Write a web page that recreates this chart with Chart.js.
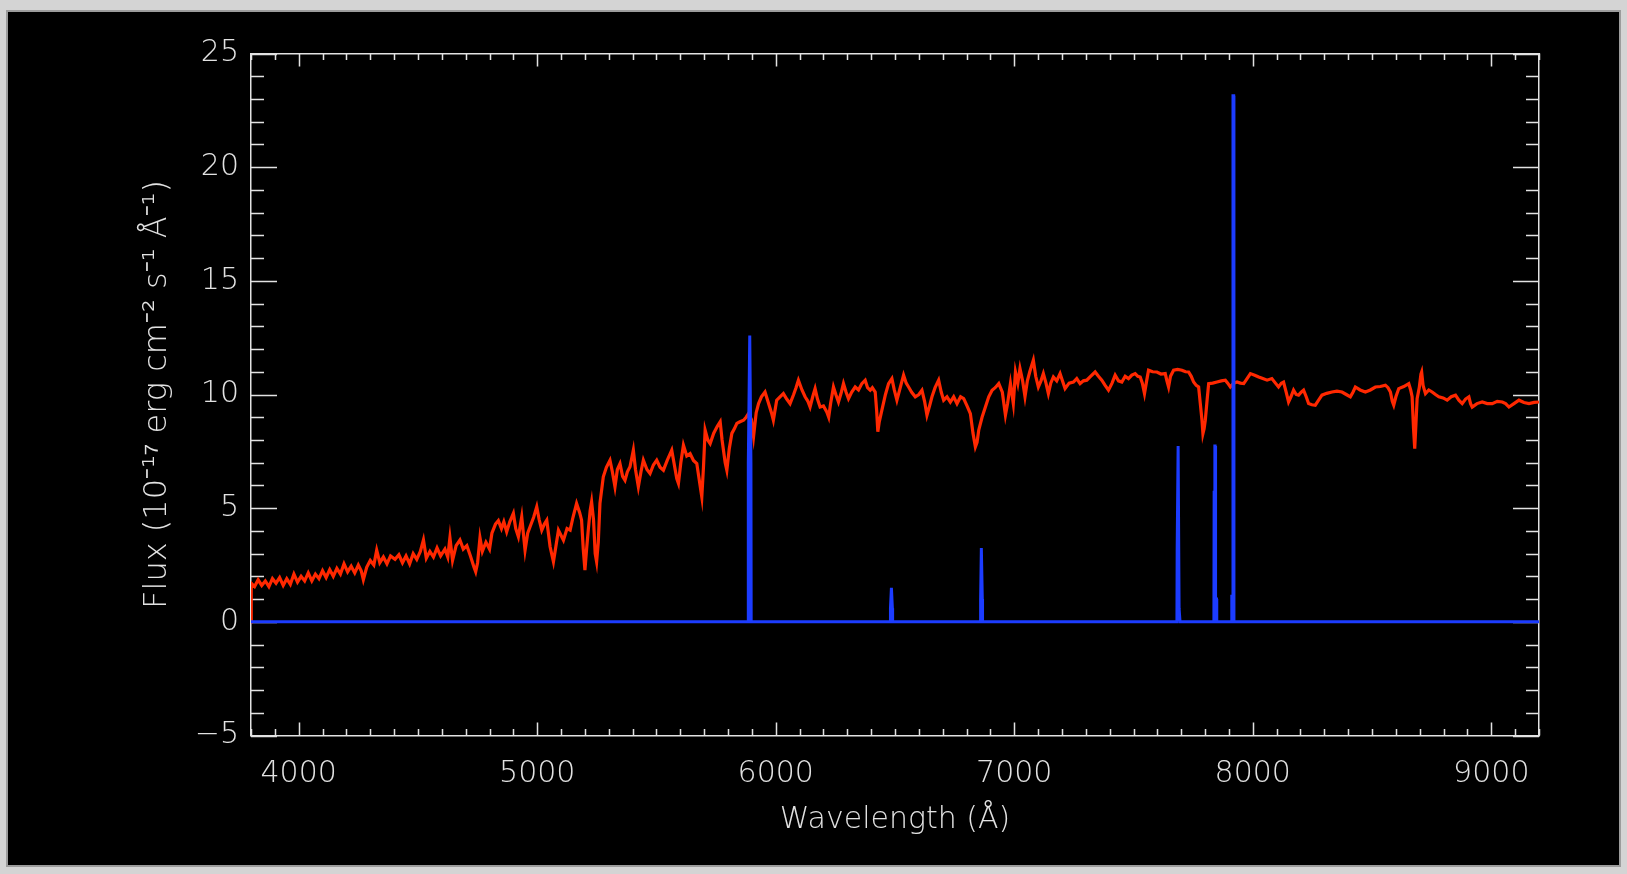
<!DOCTYPE html>
<html lang="en">
  <head>
    <meta charset="UTF-8" />
    <title>Spectrum</title>
    <script src="https://cdn.jsdelivr.net/npm/chart.js"></script>
    <style>
      html, body {
        margin: 0;
        padding: 0;
        width: 1627px;
        height: 874px;
        overflow: hidden;
        background: #d4d4d4;
      }
      .panel {
        position: absolute;
        left: 8px;
        top: 12px;
        width: 1611px;
        height: 853px;
        background: #000;
        box-shadow: 0 0 0 2px #9c9c9c;
      }
    </style>
  </head>
  <body>
    <div class="panel">
      <canvas id="spec" width="1611" height="853"></canvas>
    </div>

    <script>
      // observed spectrum (red)
      const wavelength = [
        3800, 3801, 3815, 3830, 3845, 3860, 3875, 3890, 3905, 3920, 3935, 3950, 3965, 3980, 3995,
        4010, 4025, 4040, 4055, 4070, 4085, 4100, 4115, 4130, 4145, 4160, 4175, 4190, 4205, 4220,
        4235, 4250, 4262, 4271, 4285, 4300, 4315, 4327, 4340, 4355, 4370, 4385, 4404, 4420, 4435,
        4450, 4465, 4480, 4495, 4510, 4523, 4535, 4550, 4565, 4580, 4595, 4613, 4625, 4634, 4645,
        4660, 4676, 4690, 4705, 4720, 4735, 4742, 4750, 4760, 4770, 4785, 4800, 4810, 4825, 4837,
        4850, 4860, 4872, 4885, 4900, 4910, 4921, 4935, 4949, 4960, 4970, 4985, 4998, 5008, 5019,
        5030, 5040, 5054, 5068, 5078, 5089, 5100, 5110, 5125, 5138, 5150, 5165, 5178, 5186, 5193,
        5200, 5207, 5214, 5222, 5228, 5236, 5243, 5249, 5256, 5263, 5277, 5290, 5305, 5315, 5326,
        5336, 5347, 5358, 5368, 5378, 5389, 5403, 5412, 5424, 5435, 5445, 5460, 5473, 5487, 5501,
        5515, 5529, 5545, 5564, 5575, 5585, 5592, 5602, 5613, 5627, 5641, 5655, 5669, 5680, 5690,
        5697, 5704, 5715, 5725, 5740, 5755, 5767, 5775, 5788, 5795, 5805, 5816, 5827, 5837, 5850,
        5865, 5876, 5886, 5898, 5907, 5918, 5928, 5940, 5955, 5970, 5982, 5990, 6004, 6018, 6032,
        6046, 6060, 6075, 6085, 6095, 6110, 6123, 6135, 6144, 6155, 6165, 6175, 6186, 6200, 6214,
        6222, 6230, 6242, 6252, 6263, 6275, 6284, 6295, 6305, 6318, 6333, 6347, 6361, 6375, 6385,
        6396, 6405, 6417, 6423, 6428, 6434, 6445, 6460, 6473, 6487, 6497, 6508, 6522, 6536, 6547,
        6557, 6570, 6585, 6600, 6613, 6624, 6634, 6645, 6655, 6668, 6683, 6694, 6704, 6718, 6732,
        6746, 6760, 6775, 6788, 6802, 6816, 6827, 6837, 6844, 6851, 6865, 6879, 6893, 6907, 6920,
        6935, 6950, 6963, 6972, 6984, 6996, 7005, 7015, 7024, 7035, 7045, 7055, 7065, 7080, 7090,
        7101, 7112, 7122, 7133, 7143, 7153, 7164, 7178, 7192, 7202, 7213, 7230, 7248, 7262, 7276,
        7290, 7304, 7320, 7339, 7353, 7367, 7381, 7395, 7410, 7423, 7437, 7451, 7465, 7479, 7493,
        7507, 7518, 7528, 7537, 7546, 7555, 7563, 7580, 7598, 7615, 7633, 7640, 7647, 7655, 7668,
        7685, 7703, 7718, 7731, 7742, 7752, 7763, 7773, 7780, 7787, 7791, 7796, 7801, 7808, 7815,
        7832, 7850, 7868, 7885, 7895, 7906, 7920, 7934, 7948, 7962, 7976, 7990, 8008, 8025, 8042,
        8060, 8080, 8095, 8108, 8120, 8129, 8140, 8150, 8160, 8171, 8182, 8192, 8203, 8213, 8224,
        8234, 8248, 8262, 8276, 8290, 8310, 8332, 8353, 8374, 8392, 8409, 8420, 8430, 8450, 8472,
        8493, 8514, 8535, 8556, 8567, 8577, 8585, 8591, 8600, 8612, 8633, 8654, 8662, 8668, 8674,
        8679, 8684, 8689, 8698, 8705, 8708, 8714, 8724, 8738, 8752, 8766, 8780, 8798, 8815, 8832,
        8850, 8864, 8878, 8892, 8906, 8913, 8920, 8940, 8962, 8983, 9004, 9025, 9046, 9060, 9074,
        9095, 9116, 9137, 9158, 9180, 9200,
      ];
      const flux = [
        0, 1.7, 1.55, 1.85, 1.6, 1.8, 1.55, 1.9, 1.7, 1.95, 1.6, 1.9, 1.65, 2.1, 1.75,
        2.0, 1.8, 2.15, 1.8, 2.1, 1.9, 2.25, 1.95, 2.3, 2.0, 2.35, 2.1, 2.55, 2.2, 2.45,
        2.15, 2.5, 2.25, 1.85, 2.4, 2.7, 2.5, 3.15, 2.6, 2.85, 2.55, 2.9, 2.75, 2.95, 2.6,
        2.9, 2.55, 3.0, 2.75, 3.1, 3.6, 2.8, 3.1, 2.85, 3.25, 2.9, 3.2, 2.85, 3.7, 2.7,
        3.35, 3.6, 3.2, 3.35, 2.9, 2.4, 2.2, 2.6, 3.7, 3.1, 3.5, 3.2, 3.9, 4.3, 4.45,
        4.1, 4.4, 3.96, 4.4, 4.77, 4.1, 3.74, 4.62, 3.15, 3.9, 4.18, 4.6, 5.06, 4.5, 4.03,
        4.3, 4.47, 3.3, 2.64, 3.3, 4.03, 3.8, 3.59, 4.1, 4.03, 4.6, 5.21, 4.8, 4.47, 3.2,
        2.27, 3.2, 4.03, 4.9, 5.28, 4.5, 3.0, 2.64, 3.5, 5.21, 6.38, 6.8, 7.11, 6.6, 5.94,
        6.7, 6.96, 6.4, 6.23, 6.6, 6.82, 7.55, 6.7, 5.94, 6.6, 7.11, 6.7, 6.52, 6.9, 7.11,
        6.8, 6.67, 7.1, 7.55, 6.9, 6.3, 6.09, 7.0, 7.77, 7.3, 7.4, 7.1, 6.96, 6.2, 5.5,
        6.8, 8.43, 8.0, 7.84, 8.3, 8.6, 8.8, 8.0, 7.0, 6.67, 7.6, 8.29, 8.5, 8.73, 8.8,
        8.87, 9.0, 9.16, 8.9, 8.15, 9.2, 9.6, 9.9, 10.11, 9.6, 9.2, 8.87, 9.75, 9.9, 10.04,
        9.8, 9.6, 10.0, 10.3, 10.63, 10.2, 9.9, 9.7, 9.45, 9.9, 10.26, 9.8, 9.45, 9.5, 9.23,
        9.0, 9.6, 10.33, 10.0, 9.67, 10.1, 10.48, 10.1, 9.82, 10.1, 10.33, 10.2, 10.48, 10.63, 10.3,
        10.19, 10.3, 10.11, 9.3, 8.36, 8.8, 9.31, 10.0, 10.48, 10.7, 10.2, 9.75, 10.3, 10.85, 10.5,
        10.33, 10.1, 9.9, 10.0, 10.19, 9.7, 9.09, 9.5, 9.9, 10.3, 10.63, 10.1, 9.75, 9.9, 9.67,
        9.9, 9.6, 9.9, 9.82, 9.5, 9.16, 8.3, 7.7, 7.9, 8.43, 9.0, 9.45, 9.9, 10.19, 10.3,
        10.48, 10.1, 9.09, 9.6, 10.48, 9.6, 10.99, 10.5, 11.14, 10.6, 9.9, 10.6, 11.0, 11.51, 10.8,
        10.33, 10.6, 10.92, 10.5, 10.04, 10.5, 10.77, 10.6, 10.92, 10.6, 10.26, 10.5, 10.55, 10.7, 10.48,
        10.6, 10.63, 10.8, 10.99, 10.8, 10.63, 10.4, 10.19, 10.5, 10.85, 10.6, 10.55, 10.8, 10.7, 10.85,
        10.92, 10.8, 10.77, 10.5, 10.04, 10.6, 11.07, 11.0, 10.99, 10.9, 10.92, 10.6, 10.33, 10.8, 11.07,
        11.1, 11.07, 11.0, 10.99, 10.8, 10.55, 10.4, 10.33, 9.6, 8.87, 8.28, 8.5, 8.87, 9.7, 10.48,
        10.5, 10.55, 10.6, 10.63, 10.5, 10.33, 10.5, 10.55, 10.5, 10.48, 10.7, 10.92, 10.85, 10.77, 10.7,
        10.63, 10.7, 10.5, 10.33, 10.5, 10.55, 10.1, 9.67, 9.9, 10.19, 10.0, 9.97, 10.1, 10.19, 9.9,
        9.6, 9.55, 9.53, 9.75, 9.97, 10.05, 10.11, 10.15, 10.11, 10.0, 9.9, 10.1, 10.33, 10.2, 10.11,
        10.2, 10.33, 10.35, 10.41, 10.3, 10.11, 9.7, 9.53, 9.9, 10.26, 10.35, 10.48, 10.2, 9.9, 8.5,
        7.62, 8.7, 9.82, 10.3, 10.9, 10.99, 10.4, 10.04, 10.2, 10.11, 10.0, 9.9, 9.85, 9.75, 9.9,
        9.97, 9.75, 9.6, 9.8, 9.9, 9.6, 9.45, 9.6, 9.67, 9.6, 9.6, 9.7, 9.67, 9.6, 9.45,
        9.6, 9.75, 9.65, 9.6, 9.65, 9.67,
      ];

      // sky / emission lines (blue)
      const skyWave = [
        3800, 5884, 5885, 5891, 5892, 5896, 5897,
        6480, 6481, 6485, 6486, 6489, 6490,
        6858, 6859, 6862, 6863, 6866, 6867,
        7682, 7683, 7687, 7688, 7691, 7694, 7695,
        7837, 7838, 7841, 7842, 7844, 7848, 7849,
        7911, 7912, 7916, 7917, 7920, 7921, 9200,
      ];
      const skyFlux = [
        0, 0, 7.0, 12.6, 12.6, 7.0, 0,
        0, 0.6, 1.5, 1.5, 0.6, 0,
        0, 1.0, 3.25, 3.25, 1.0, 0,
        0, 3.1, 7.73, 7.73, 0.6, 0.6, 0,
        0, 5.7, 7.73, 7.73, 1.0, 1.0, 0,
        0, 1.13, 1.13, 23.14, 23.14, 0, 0,
      ];

      // axis labels shown at the long ticks
      const xTickLabels = [4000, 5000, 6000, 7000, 8000, 9000];
      const yTickLabels = [-5, 0, 5, 10, 15, 20, 25];

      const axisColor = "#e2e2e2";
      const font = { family: "'DejaVu Sans', sans-serif", size: 30, weight: 200 };

      // IDL-style tick marks pointing into the plot
      const inwardTicks = {
        id: "inwardTicks",
        beforeDatasetsDraw(chart) {
          const { ctx, chartArea } = chart;
          const { left, right, top, bottom } = chartArea;
          const sx = chart.scales.x;
          const sy = chart.scales.y;
          ctx.save();
          ctx.strokeStyle = axisColor;
          ctx.lineWidth = 1.5;
          ctx.beginPath();
          sx.ticks.forEach((t) => {
            const px = Math.round(sx.getPixelForValue(t.value)) + 0.5;
            const len = xTickLabels.includes(t.value) ? 13 : 6.5;
            ctx.moveTo(px, bottom);
            ctx.lineTo(px, bottom - len);
            ctx.moveTo(px, top);
            ctx.lineTo(px, top + len);
          });
          sy.ticks.forEach((t) => {
            const py = Math.round(sy.getPixelForValue(t.value)) + 0.5;
            const len = yTickLabels.includes(t.value) ? 26 : 13;
            ctx.moveTo(left, py);
            ctx.lineTo(left + len, py);
            ctx.moveTo(right, py);
            ctx.lineTo(right - len, py);
          });
          ctx.stroke();
          ctx.restore();
        },
      };

      const hiddenAxis = (min, max, step) => ({
        type: "linear",
        min: min,
        max: max,
        grid: { display: false, drawTicks: false },
        border: { display: true, color: axisColor, width: 1.5 },
        ticks: { display: false, stepSize: step, autoSkip: false },
      });

      const ctx = document.getElementById("spec").getContext("2d");
      new Chart(ctx, {
        type: "line",
        data: {
          datasets: [
            {
              label: "sky",
              data: skyWave.map((w, i) => ({ x: w, y: skyFlux[i] })),
              borderColor: "#1c3cff",
              borderWidth: 3,
              pointRadius: 0,
              tension: 0,
              order: 0,
            },
            {
              label: "flux",
              data: wavelength.map((w, i) => ({ x: w, y: flux[i] })),
              borderColor: "#ff2800",
              borderWidth: 3.2,
              borderJoinStyle: "miter",
              pointRadius: 0,
              tension: 0,
              order: 1,
            },
          ],
        },
        options: {
          responsive: false,
          animation: false,
          devicePixelRatio: 1,
          layout: { padding: { left: 130, right: 0, top: 0, bottom: 0 } },
          plugins: {
            legend: { display: false },
            tooltip: { enabled: false },
          },
          scales: {
            x: {
              type: "linear",
              position: "bottom",
              min: 3800,
              max: 9200,
              grid: { display: false, drawTicks: false },
              border: { display: true, color: axisColor, width: 1.5 },
              ticks: {
                stepSize: 100,
                autoSkip: false,
                maxRotation: 0,
                padding: 21,
                color: axisColor,
                font: font,
                callback: (v) => (xTickLabels.includes(v) ? String(v) : ""),
              },
              title: {
                display: true,
                text: "Wavelength (Å)",
                color: axisColor,
                font: font,
                padding: { top: 0, bottom: 27 },
              },
              afterFit: (s) => {
                s.height = 129.5;
              },
            },
            x2: Object.assign(hiddenAxis(3800, 9200, 100), {
              position: "top",
              afterFit: (s) => {
                s.height = 41.5;
              },
            }),
            y: {
              type: "linear",
              position: "left",
              min: -5,
              max: 25,
              grid: { display: false, drawTicks: false },
              border: { display: true, color: axisColor, width: 1.5 },
              ticks: {
                stepSize: 1,
                autoSkip: false,
                padding: 12,
                color: axisColor,
                font: font,
                callback: (v) =>
                  yTickLabels.includes(v) ? String(v).replace("-", "\u2212") : "",
              },
              title: {
                display: true,
                text: "Flux (10\u207B\u00B9\u2077 erg cm\u207B\u00B2 s\u207B\u00B9 Å\u207B\u00B9)",
                color: axisColor,
                font: { family: font.family, size: 32, weight: 200 },
                padding: { top: 0, bottom: 0 },
              },
              afterFit: (s) => {
                s.width = 113;
              },
            },
            y2: Object.assign(hiddenAxis(-5, 25, 1), {
              position: "right",
              afterFit: (s) => {
                s.width = 80;
              },
            }),
          },
        },
        plugins: [inwardTicks],
      });
    </script>
  </body>
</html>
